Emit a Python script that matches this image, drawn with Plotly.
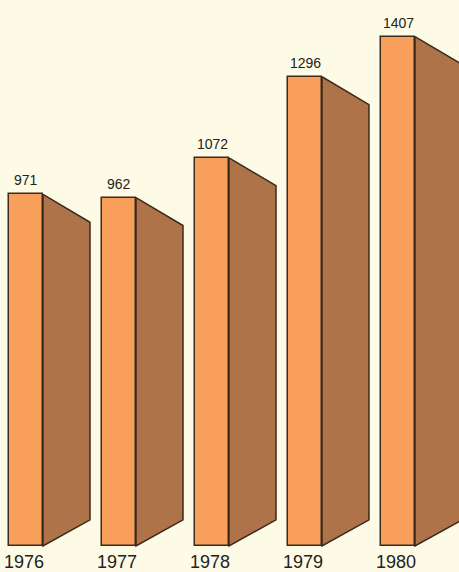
import plotly.graph_objects as go

# Annual totals
years = ["1976", "1977", "1978", "1979", "1980"]
values = [971, 962, 1072, 1296, 1407]

# Styling / geometry constants (x in screen-like units, y in data units)
X0 = 26          # centre of first bar
STEP = 93        # distance between bars
FRONT_W = 34     # width of the front face
DEPTH = 47       # horizontal depth of the side face
TOP_DROP = 77    # how far the side's far top edge falls (data units)
BOTTOM_RISE = 72 # how far the side's far bottom edge rises (data units)

FRONT = "#F8A05B"
SIDE = "#AF7349"
EDGE = "#3B2A1E"
BG = "#FDFBE6"
FONT = "Liberation Sans Narrow, Arial Narrow, Liberation Sans, sans-serif"

fig = go.Figure()

centres = [X0 + i * STEP for i in range(len(years))]

# side faces as filled polygons
for xc, v in zip(centres, values):
    xr = xc + FRONT_W / 2
    fig.add_trace(go.Scatter(
        x=[xr, xr + DEPTH, xr + DEPTH, xr, xr],
        y=[v, v - TOP_DROP, BOTTOM_RISE, 0, v],
        mode="lines", fill="toself", fillcolor=SIDE,
        line=dict(color=EDGE, width=1.5),
        hoverinfo="skip", showlegend=False,
    ))

# front faces
fig.add_trace(go.Bar(
    x=centres, y=values, width=FRONT_W, base=0,
    marker=dict(color=FRONT, line=dict(color=EDGE, width=1.5)),
    showlegend=False, hoverinfo="skip",
))

# value labels above each bar
for xc, v in zip(centres, values):
    fig.add_annotation(
        x=xc, y=v, text=str(v), showarrow=False,
        yanchor="bottom", yshift=4,
        font=dict(family=FONT, size=14, color="#222222"),
    )

# year labels under each bar
for xc, yr in zip(centres, years):
    fig.add_annotation(
        x=xc - 2, y=0, text=yr, showarrow=False,
        yanchor="top", yshift=-4,
        font=dict(family=FONT, size=18, color="#222222"),
    )

fig.update_layout(
    width=459, height=572,
    margin=dict(l=0, r=0, t=0, b=0),
    paper_bgcolor=BG, plot_bgcolor=BG,
    xaxis=dict(range=[0, 459], visible=False, fixedrange=True),
    yaxis=dict(range=[-72, 1508], visible=False, fixedrange=True),
    bargap=0,
)

fig.write_html("out.html")
